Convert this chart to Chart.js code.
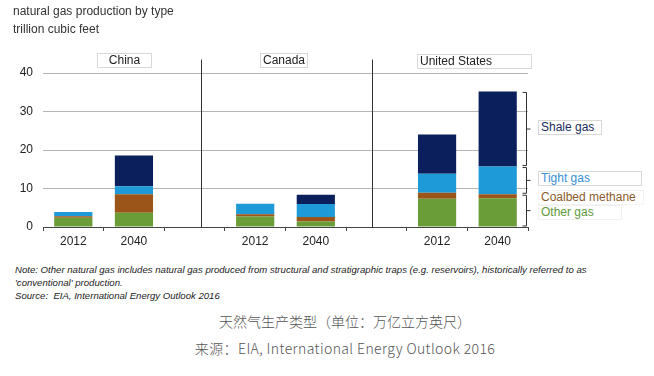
<!DOCTYPE html>
<html>
<head>
<meta charset="utf-8">
<script src="https://cdn.jsdelivr.net/npm/chart.js@4/dist/chart.umd.min.js"></script>
<style>
  body { margin: 0; width: 654px; height: 376px; background: #fff; position: relative; overflow: hidden; font-family: "Liberation Sans", Arial, sans-serif; }
  #wrap { position: absolute; left: 0; top: 0; width: 654px; height: 251px; }
  .t { position: absolute; white-space: nowrap; color: #333; }
  .box { position: absolute; border: 1px solid #d8d8d8; background: #fff; font-size: 12px; line-height: 13px; padding: 0 2px; color: #222; white-space: nowrap; }
  .note { position: absolute; left: 15px; font-style: italic; font-size: 9.6px; color: #222; white-space: nowrap; }
  .cap { position: absolute; left: 0; width: 690px; text-align: center; font-family: "Noto Sans CJK SC", sans-serif; font-size: 14px; color: #555; font-weight: 300; }
</style>
</head>
<body>
<div id="wrap"><canvas id="myChart" width="654" height="251"></canvas></div>

<div class="t" style="left:13px; top:4px; font-size:12px;">natural gas production by type</div>
<div class="t" style="left:13px; top:22px; font-size:12px;">trillion cubic feet</div>

<div class="box" style="left:97px; top:53px; width:49px; text-align:center;">China</div>
<div class="box" style="left:260px; top:53px;">Canada</div>
<div class="box" style="left:417px; top:54px; width:109px;">United States</div>

<div class="box" style="left:538px; top:120px; width:58px; color:#1c2a5e;">Shale gas</div>
<div class="box" style="left:538px; top:171px; width:98px; color:#3b8fd3;">Tight gas</div>
<div class="box" style="left:538px; top:190px; width:100px; color:#8b5a2b; border-color:#f4f4f4;">Coalbed methane</div>
<div class="box" style="left:538px; top:205px; width:78px; color:#5f9a3c; border-color:#f0f0f0;">Other gas</div>

<div class="note" style="top:264px;">Note: Other natural gas includes natural gas produced from structural and stratigraphic traps (e.g. reservoirs), historically referred to as</div>
<div class="note" style="top:277px;">'conventional' production.</div>
<div class="note" style="top:290px;">Source:&nbsp; EIA, International Energy Outlook 2016</div>

<div class="cap" style="top:311px;">天然气生产类型（单位：万亿立方英尺）</div>
<div class="cap" style="top:338px; letter-spacing:0.4px;">来源：EIA, International Energy Outlook 2016</div>

<script>
// categories: China 2012/2040, gap, Canada 2012/2040, gap, US 2012/2040
const categories = ["2012", "2040", "", "2012", "2040", "", "2012", "2040"];
const otherGas = [2.4, 3.7, null, 2.7, 1.4, null, 7.35, 7.5];
const coalbedMethane = [0.4, 4.8, null, 0.6, 1.2, null, 1.55, 1.0];
const tightGas = [1.1, 2.1, null, 2.75, 3.4, null, 4.9, 7.2];
const shaleGas = [0, 8.0, null, 0, 2.4, null, 10.2, 19.5];
const yTicks = [0, 10, 20, 30, 40];

// region separators, in category index units
const separators = [2.11, 4.92];

const decorPlugin = {
  id: "decor",
  beforeDatasetsDraw(chart) {
    const ctx = chart.ctx;
    const x = chart.scales.x;
    const y = chart.scales.y;
    ctx.save();
    ctx.strokeStyle = "#333";
    ctx.lineWidth = 1;
    separators.forEach(function (v) {
      const px = Math.round(x.getPixelForValue(v)) + 0.5;
      ctx.beginPath();
      ctx.moveTo(px, y.getPixelForValue(43.5));
      ctx.lineTo(px, y.getPixelForValue(0));
      ctx.stroke();
    });
    ctx.restore();
  },
  afterDatasetsDraw(chart) {
    // brackets next to the last US bar
    const ctx = chart.ctx;
    const y = chart.scales.y;
    const i = 7;
    const c1 = otherGas[i] + coalbedMethane[i];
    const c2 = c1 + tightGas[i];
    const c3 = c2 + shaleGas[i];
    const groups = [[0, c1], [c1, c2], [c2, c3]];
    const bx = chart.chartArea.right - 1.5;
    ctx.save();
    ctx.strokeStyle = "#333";
    ctx.lineWidth = 1;
    groups.forEach(function (g) {
      const top = y.getPixelForValue(g[1]) + 1;
      const bot = y.getPixelForValue(g[0]) - 1;
      const mid = (top + bot) / 2;
      ctx.beginPath();
      ctx.moveTo(bx - 4, top);
      ctx.lineTo(bx, top);
      ctx.lineTo(bx, bot);
      ctx.lineTo(bx - 4, bot);
      ctx.moveTo(bx, mid);
      ctx.lineTo(bx + 4, mid);
      ctx.stroke();
    });
    ctx.restore();
  }
};

Chart.defaults.font.family = "'Liberation Sans', Arial, sans-serif";
Chart.defaults.font.size = 12;
Chart.defaults.color = "#333";

const ctx = document.getElementById("myChart");
new Chart(ctx, {
  type: "bar",
  data: {
    labels: categories,
    datasets: [
      { label: "Other gas", data: otherGas, backgroundColor: "#6a9c38" },
      { label: "Coalbed methane", data: coalbedMethane, backgroundColor: "#9c5518" },
      { label: "Tight gas", data: tightGas, backgroundColor: "#1f9ad8" },
      { label: "Shale gas", data: shaleGas, backgroundColor: "#0b1f5c" },
    ],
  },
  options: {
    responsive: false,
    animation: false,
    layout: { padding: { left: 0, right: 126, top: 73, bottom: 0 } },
    datasets: { bar: { categoryPercentage: 1, barPercentage: 0.63, borderWidth: 0 } },
    plugins: { legend: { display: false }, tooltip: { enabled: false } },
    scales: {
      x: {
        stacked: true,
        afterFit: function (s) { s.height = 24; },
        grid: { offset: true, drawOnChartArea: false, drawTicks: true, tickLength: 4, color: "#444" },
        border: { display: true, color: "#444", width: 1 },
        ticks: { padding: 3, color: "#222", font: { size: 12 } },
      },
      y: {
        stacked: true,
        min: 0,
        max: 40,
        afterFit: function (s) { s.width = 43; },
        afterBuildTicks: function (s) { s.ticks = yTicks.map(function (v) { return { value: v }; }); },
        grid: { color: "#b5b5b5", drawTicks: false },
        border: { display: false },
        ticks: { padding: 10, color: "#222", font: { size: 12 } },
      },
    },
  },
  plugins: [decorPlugin],
});
</script>
</body>
</html>
